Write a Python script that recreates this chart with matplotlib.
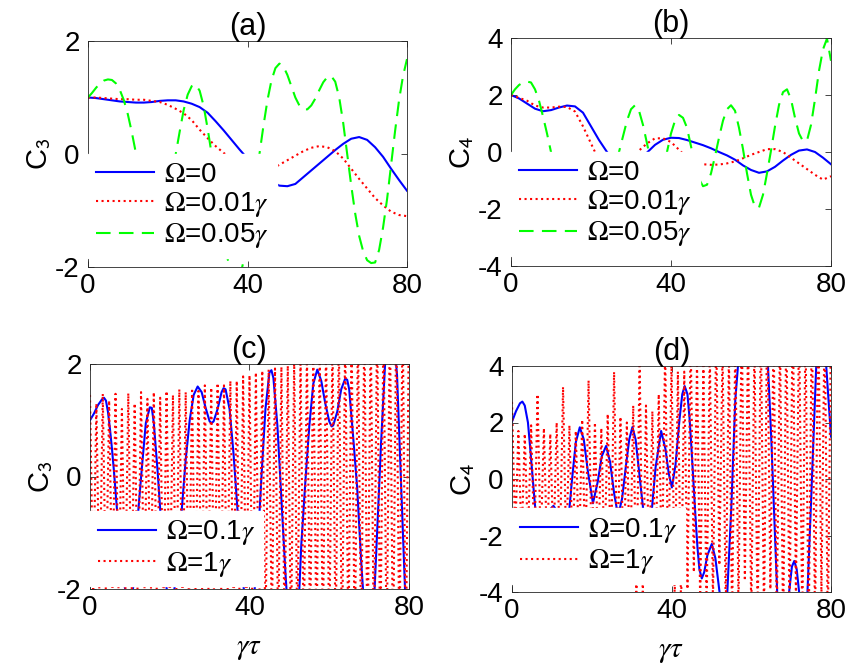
import numpy as np
import matplotlib
matplotlib.use('Agg')
import matplotlib.pyplot as plt

plt.rcParams['font.family'] = ['Liberation Sans', 'DejaVu Sans']
plt.rcParams['mathtext.fontset'] = 'stix'
plt.rcParams['axes.unicode_minus'] = False

# ---- panel (a): C3, slow drive ----
a_t2 = np.arange(0, 81, 2)
a_t1 = np.arange(0, 81, 1)
a_blue = [1.00, 0.99, 0.97, 0.95, 0.93, 0.92, 0.91, 0.91, 0.92, 0.94, 0.95, 0.95, 0.93, 0.89,
          0.83, 0.73, 0.58, 0.42, 0.25, 0.08, -0.08, -0.22, -0.38, -0.49, -0.56, -0.57, -0.53,
          -0.41, -0.29, -0.17, -0.05, 0.07, 0.18, 0.27, 0.30, 0.25, 0.12, -0.05, -0.26, -0.46, -0.65]
a_red = [1.00, 1.00, 0.99, 0.98, 0.97, 0.97, 0.96, 0.96, 0.94, 0.92, 0.87, 0.80, 0.72, 0.60,
         0.43, 0.28, 0.14, 0.02, -0.08, -0.17, -0.25, -0.31, -0.33, -0.27, -0.19, -0.11, -0.03,
         0.05, 0.11, 0.14, 0.12, 0.05, -0.08, -0.26, -0.44, -0.61, -0.78, -0.91, -1.02, -1.08, -1.10]
a_green = [1.0, 1.08, 1.17, 1.25, 1.3, 1.32, 1.31, 1.25, 1.13, 0.95,
           0.7, 0.38, 0.02, -0.35, -0.7, -1.0, -1.2, -1.3, -1.25, -1.05,
           -0.75, -0.4, 0.0, 0.4, 0.78, 1.05, 1.2, 1.23, 1.12, 0.85,
           0.45, 0.0, -0.5, -1.0, -1.45, -1.85, -2.15, -2.3, -2.2, -1.9,
           -1.5, -1.0, -0.5, 0.0, 0.5, 0.95, 1.3, 1.52, 1.6, 1.55,
           1.4, 1.2, 1.0, 0.86, 0.79, 0.79, 0.86, 0.98, 1.13, 1.27,
           1.36, 1.38, 1.28, 1.0, 0.55, 0.0, -0.55, -1.05, -1.45, -1.72,
           -1.88, -1.93, -1.92, -1.7, -1.3, -0.8, -0.2, 0.4, 0.95, 1.38,
           1.68]

# ---- panel (b): C4, slow drive ----
b_blue = [2.0, 1.88, 1.7, 1.52, 1.43, 1.47, 1.56, 1.63, 1.6, 1.38, 0.9, 0.42, 0.0, -0.35,
          -0.55, -0.55, -0.35, -0.02, 0.25, 0.43, 0.5, 0.49, 0.42, 0.33, 0.24, 0.13, 0.0,
          -0.12, -0.27, -0.47, -0.63, -0.73, -0.68, -0.52, -0.3, -0.1, 0.05, 0.09, 0.0, -0.2, -0.43]
b_red = [2.0, 1.9, 1.8, 1.63, 1.56, 1.56, 1.59, 1.58, 1.42, 0.9, 0.3, -0.3, -0.7, -0.85,
         -0.7, -0.35, 0.05, 0.3, 0.48, 0.48, 0.35, 0.08, -0.2, -0.37, -0.43, -0.45, -0.44,
         -0.4, -0.33, -0.22, -0.1, 0.0, 0.1, 0.1, 0.0, -0.2, -0.4, -0.6, -0.8, -0.97, -0.85]
b_green = [2.0, 2.2, 2.35, 2.44, 2.47, 2.44, 2.2, 1.8, 1.25, 0.65,
           0.0, -0.6, -1.1, -1.45, -1.6, -1.55, -1.35, -1.05, -0.8, -0.65,
           -0.65, -0.8, -1.0, -1.1, -1.0, -0.75, -0.4, 0.0, 0.55, 1.1,
           1.5, 1.64, 1.45, 0.95, 0.3, -0.35, -0.8, -0.95, -0.65, 0.0,
           0.65, 1.1, 1.3, 1.2, 0.85, 0.2, -0.45, -0.95, -1.2, -1.15,
           -0.75, -0.15, 0.5, 1.1, 1.5, 1.64, 1.45, 0.85, 0.1, -0.75,
           -1.5, -1.93, -1.95, -1.5, -0.75, 0.05, 0.9, 1.65, 2.1, 2.2,
           1.85, 1.2, 0.65, 0.38, 0.4, 0.95, 1.85, 2.85, 3.6, 3.98,
           3.2]

# ---- panel (c): C3, strong drive ----
c_t = [0, 1, 2, 3, 3.5, 4, 4.5, 5, 5.5, 6, 7, 8, 9, 10, 11, 12, 13, 14, 15, 15.5,
       16, 17, 18, 19, 20, 21, 22, 23, 24, 25, 26, 27, 28, 29, 30, 30.5, 31, 32, 33, 33.5,
       34, 35, 36, 37, 38, 39, 40, 41, 42, 43, 44, 45, 45.5, 46, 47, 48, 49, 50, 51, 52,
       53, 54, 55, 56, 57, 58, 59, 60, 60.6, 61, 62, 63, 64, 64.5, 65, 66, 67, 68, 69, 70,
       71, 72, 73, 74, 75, 76, 77, 78, 79, 80]
c_blue = [1.0, 1.12, 1.27, 1.37, 1.4, 1.35, 1.15, 0.85, 0.5, 0.1,
          -0.8, -1.6, -2.1, -2.3, -1.9, -0.7, 0.15, 0.95, 1.23, 1.22,
          0.95, 0.05, -1.0, -1.9, -2.3, -2.1, -1.5, -0.6, 0.3, 1.0,
          1.45, 1.6, 1.5, 1.22, 0.98, 0.95, 0.98, 1.2, 1.5, 1.57,
          1.55, 1.2, 0.4, -0.6, -1.6, -2.3, -2.6, -2.3, -1.3, 0.0,
          1.2, 1.85, 1.89, 1.75, 0.9, -0.4, -1.7, -2.8, -3.2, -2.8,
          -1.2, -0.1, 0.9, 1.65, 1.9, 1.7, 1.3, 0.98, 0.89, 0.91,
          1.15, 1.55, 1.74, 1.72, 1.55, 0.7, -0.2, -1.5, -2.6, -3.0,
          -2.6, -1.0, 0.6, 2.0, 2.8, 2.7, 1.8, -0.1, -2.0, -3.2]
# fast curve: turning points every 0.8 (peaks at even steps, troughs at odd steps)
zig_t = np.arange(101) * 0.8
c_red_peaks = [1.45, 1.3, 1.47, 1.35, 1.47, 1.2, 1.48, 1.3, 1.5, 1.38, 1.5, 1.4, 1.52, 1.45,
               1.55, 1.5, 1.57, 1.52, 1.62, 1.58, 1.66, 1.62, 1.7, 1.7, 1.78, 1.8, 1.85, 1.88,
               1.9, 1.92, 1.95, 1.97, 2.05, 2.1, 2.2, 2.3, 2.3, 2.4, 2.4, 2.5, 2.5, 2.6, 2.6,
               2.7, 2.7, 2.8, 2.8, 2.9, 2.9, 3.0, 3.0]
c_red_troughs = [-2.2, -2.3, -2.2, -2.35, -2.25, -2.4, -2.3, -2.4, -2.3, -2.45, -2.35, -2.5,
                 -2.4, -2.5, -2.45, -2.55, -2.5, -2.6, -2.5, -2.65, -2.55, -2.7, -2.6, -2.75,
                 -2.65, -2.8, -2.7, -2.85, -2.75, -2.9, -2.8, -2.95, -2.85, -3.0, -2.9, -3.05,
                 -2.95, -3.1, -3.0, -3.15, -3.05, -3.2, -3.1, -3.25, -3.15, -3.3, -3.2, -3.35,
                 -3.25, -3.4]

# ---- panel (d): C4, strong drive ----
d_t = [0, 1, 2, 2.6, 3.2, 4, 4.5, 5, 5.5, 6, 7, 8, 9, 9.7, 10.4, 11.1, 12, 13, 14, 14.3,
       15, 16, 17, 18, 19, 20.3, 21.5, 22.5, 23.6, 24.6, 25.6, 26.6, 27.6, 28.6, 29.4, 30.2,
       31, 32, 33, 34, 35, 36, 37.4, 38.5, 39.3, 40.1, 41, 42, 42.7, 43.3, 44, 44.5, 45,
       45.5, 46, 46.5, 47, 47.6, 48.2, 49, 50.1, 51, 52, 53, 54, 55, 56, 57, 58, 60, 62, 63,
       64.2, 65, 66.5, 68, 69.5, 70.2, 70.8, 71.4, 72, 73, 74.1, 75, 76.3, 77.5, 78.8, 80]
d_blue = [2.03, 2.4, 2.68, 2.74, 2.6, 2.0, 1.2, 0.35, -0.5, -1.3,
          -2.3, -2.5, -1.6, -1.05, -0.95, -1.1, -1.8, -2.0, -1.5, -1.2,
          -0.1, 1.3, 1.83, 1.4, 0.3, -0.86, -0.1, 0.8, 1.17, 0.6,
          -0.5, -1.3, -0.7, 0.5, 1.4, 1.84, 1.4, 0.1, -1.2, -1.9,
          -1.2, 0.4, 1.7, 1.05, 0.2, -0.3, 0.5, 2.1, 3.0, 3.29,
          3.0, 2.2, 1.1, -0.1, -1.3, -2.4, -3.2, -3.52, -3.3, -2.7,
          -2.3, -2.8, -3.95, -4.8, -4.0, -1.0, 2.8, 4.6, 5.6, 6.3,
          5.8, 5.0, 4.0, 1.5, -4.0, -5.2, -4.0, -3.1, -2.9, -3.2,
          -4.0, -4.9, -4.0, -0.8, 4.0, 5.0, 4.0, 1.5]
d_red_peaks = [2.73, 1.7, 1.6, 1.9, 3.0, 1.8, 1.6, 2.0, 3.26, 1.9, 1.7, 2.1, 3.49, 2.0, 1.8,
               2.3, 3.79, 2.2, 2.0, 2.6, 4.3, 2.6, 2.4, 3.0, 4.6, 4.2, 3.8, 3.8, 5.0, 4.2,
               4.0, 4.6, 5.3, 4.6, 4.4, 5.0, 5.6, 5.0, 4.8, 5.4, 5.9, 5.3, 5.1, 5.6, 6.1,
               5.6, 5.4, 5.9, 6.3, 5.8, 5.6]
d_red_troughs = [-2.0, -2.3, -2.2, -2.5, -2.4, -2.6, -2.5, -2.7, -2.6, -2.8, -2.7, -2.9,
                 -2.8, -3.0, -2.9, -3.1, -3.0, -3.3, -3.5, -4.3, -4.2, -3.4, -3.3, -3.5,
                 -3.6, -4.2, -4.6, -3.9, -3.3, -4.5, -4.8, -4.4, -3.05, -4.6, -5.0, -4.6,
                 -3.6, -4.8, -5.2, -4.9, -3.9, -5.0, -5.4, -5.0, -4.0, -5.2, -5.6, -5.2,
                 -4.1, -5.4]


def zigzag(peaks, troughs):
    y = np.empty(len(peaks) + len(troughs))
    y[0::2] = peaks
    y[1::2] = troughs
    return y


W, H = 857, 665


def box(l, t, r, b):
    return [l / W, 1 - b / H, (r - l) / W, (b - t) / H]


fig = plt.figure(figsize=(8.57, 6.65), dpi=100)
ax_a = fig.add_axes(box(88, 41, 407, 267))
ax_b = fig.add_axes(box(511, 38, 831, 266))
ax_c = fig.add_axes(box(90, 364, 409, 589))
ax_d = fig.add_axes(box(512, 366, 831, 592))

lw = 1.5
green_dash = (7, 4)

ax_a.plot(a_t2, a_blue, color='b', lw=lw, label=r'$\Omega$=0')
ax_a.plot(a_t2, a_red, color='r', lw=lw, ls=':', label=r'$\Omega$=0.01$\gamma$')
ax_a.plot(a_t1, a_green, color=(0, 1, 0), lw=lw, dashes=green_dash, label=r'$\Omega$=0.05$\gamma$')

ax_b.plot(a_t2, b_blue, color='b', lw=lw, label=r'$\Omega$=0')
ax_b.plot(a_t2, b_red, color='r', lw=lw, ls=':', label=r'$\Omega$=0.01$\gamma$')
ax_b.plot(a_t1, b_green, color=(0, 1, 0), lw=lw, dashes=green_dash, label=r'$\Omega$=0.05$\gamma$')

ax_c.plot(c_t, c_blue, color='b', lw=lw, label=r'$\Omega$=0.1$\gamma$')
ax_c.plot(zig_t, zigzag(c_red_peaks, c_red_troughs), color='r', lw=lw, ls=':', label=r'$\Omega$=1$\gamma$')

ax_d.plot(d_t, d_blue, color='b', lw=lw, label=r'$\Omega$=0.1$\gamma$')
ax_d.plot(zig_t, zigzag(d_red_peaks, d_red_troughs), color='r', lw=lw, ls=':', label=r'$\Omega$=1$\gamma$')

leg_kw = dict(borderaxespad=0, fontsize=20, handlelength=2.1, handletextpad=0.35,
              labelspacing=0.08, borderpad=0.28, frameon=True, fancybox=False,
              framealpha=1, edgecolor='white')
ax_a.legend(loc='upper left', bbox_to_anchor=(0, 0.5), **leg_kw)
ax_b.legend(loc='upper left', bbox_to_anchor=(0, 0.5), **leg_kw)
ax_c.legend(loc='lower left', bbox_to_anchor=(0, 0.012), **leg_kw)
ax_d.legend(loc='lower left', bbox_to_anchor=(0, 0.035), **leg_kw)

panels = [(ax_a, '(a)', 2, '3'), (ax_b, '(b)', 4, '4'), (ax_c, '(c)', 2, '3'), (ax_d, '(d)', 4, '4')]
for ax, ttl, lim, sub in panels:
    ax.set_xlim(0, 80)
    ax.set_ylim(-lim, lim)
    ax.set_xticks([0, 40, 80])
    if lim == 2:
        ax.set_yticks([-2, 0, 2])
    else:
        ax.set_yticks([-4, -2, 0, 2, 4])
    ax.tick_params(direction='in', top=True, right=True, length=4, width=0.6,
                   labelsize=20, color='0.15')
    ax.tick_params(axis='x', pad=4.5)
    ax.tick_params(axis='y', pad=6)
    for s in ax.spines.values():
        s.set_color('0.15')
        s.set_linewidth(0.6)
    ax.set_title(ttl, fontsize=22, pad=4)
    ax.set_ylabel('C$_{\\mathsf{%s}}$' % sub, fontsize=21)
    ax.yaxis.set_label_coords(-0.11, 0.5)

for ax in (ax_c, ax_d):
    ax.set_xlabel(r'$\gamma\tau$', fontsize=21)
    ax.xaxis.set_label_coords(0.5, -0.2)

plt.savefig('out.png', dpi=100)
